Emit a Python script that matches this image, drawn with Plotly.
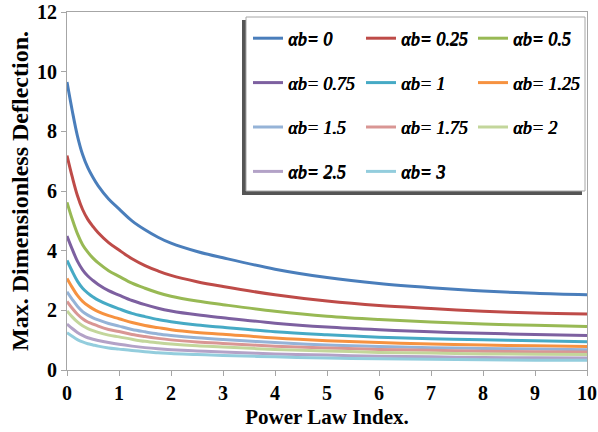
import plotly.graph_objects as go

x_vals = [0, 0.1, 0.2, 0.3, 0.4, 0.5, 0.6, 0.8, 1, 1.25, 1.5, 1.75, 2, 2.5, 3, 4, 5, 6, 7, 8, 9, 10]

ab_0 = [9.65, 8.70, 7.85, 7.22, 6.78, 6.45, 6.17, 5.73, 5.40, 5.00, 4.70, 4.45, 4.25, 3.97, 3.76, 3.38, 3.10, 2.90, 2.76, 2.65, 2.57, 2.52]
ab_025 = [7.19, 6.48, 5.85, 5.38, 5.05, 4.81, 4.60, 4.27, 4.02, 3.73, 3.50, 3.32, 3.17, 2.96, 2.80, 2.52, 2.31, 2.16, 2.06, 1.97, 1.91, 1.88]
ab_05 = [5.62, 5.06, 4.57, 4.20, 3.95, 3.75, 3.59, 3.33, 3.14, 2.91, 2.74, 2.59, 2.47, 2.31, 2.19, 1.97, 1.80, 1.69, 1.61, 1.54, 1.50, 1.46]
ab_075 = [4.49, 4.05, 3.65, 3.36, 3.15, 3.00, 2.87, 2.66, 2.51, 2.33, 2.19, 2.07, 1.98, 1.85, 1.75, 1.57, 1.44, 1.35, 1.28, 1.23, 1.19, 1.16]
ab_1 = [3.67, 3.31, 2.98, 2.74, 2.58, 2.45, 2.34, 2.18, 2.05, 1.90, 1.79, 1.69, 1.62, 1.51, 1.43, 1.28, 1.18, 1.10, 1.05, 1.01, 0.98, 0.95]
ab_125 = [3.07, 2.77, 2.50, 2.30, 2.16, 2.05, 1.96, 1.82, 1.72, 1.59, 1.49, 1.42, 1.35, 1.26, 1.20, 1.07, 0.98, 0.92, 0.87, 0.84, 0.81, 0.79]
ab_15 = [2.62, 2.37, 2.14, 1.96, 1.84, 1.75, 1.68, 1.56, 1.47, 1.36, 1.28, 1.21, 1.16, 1.08, 1.02, 0.92, 0.84, 0.79, 0.75, 0.72, 0.70, 0.68]
ab_175 = [2.30, 2.07, 1.87, 1.72, 1.61, 1.54, 1.47, 1.36, 1.29, 1.19, 1.12, 1.06, 1.01, 0.94, 0.89, 0.80, 0.74, 0.69, 0.66, 0.63, 0.61, 0.60]
ab_2 = [1.98, 1.78, 1.61, 1.48, 1.39, 1.32, 1.26, 1.17, 1.11, 1.03, 0.96, 0.91, 0.87, 0.81, 0.77, 0.69, 0.64, 0.59, 0.57, 0.54, 0.53, 0.52]
ab_25 = [1.54, 1.39, 1.26, 1.16, 1.08, 1.03, 0.99, 0.92, 0.86, 0.80, 0.75, 0.71, 0.68, 0.64, 0.60, 0.54, 0.50, 0.46, 0.44, 0.42, 0.41, 0.40]
ab_3 = [1.25, 1.13, 1.02, 0.94, 0.88, 0.84, 0.80, 0.74, 0.70, 0.65, 0.61, 0.58, 0.55, 0.52, 0.49, 0.44, 0.40, 0.38, 0.36, 0.34, 0.33, 0.33]

series_names = ["αb= 0", "αb= 0.25", "αb= 0.5", "αb= 0.75", "αb= 1", "αb= 1.25",
                "αb= 1.5", "αb= 1.75", "αb= 2", "αb= 2.5", "αb= 3"]
series_values = [ab_0, ab_025, ab_05, ab_075, ab_1, ab_125, ab_15, ab_175, ab_2, ab_25, ab_3]
colors = ["#4A7EBB", "#BE4B48", "#98B954", "#7D60A0", "#46AAC5", "#F69240",
          "#95B3D7", "#D99694", "#C3D69B", "#B3A2C7", "#93CDDD"]
legend_cols = ["legend", "legend2", "legend3"]

fig = go.Figure()
for i, (name, vals, col) in enumerate(zip(series_names, series_values, colors)):
    fig.add_trace(go.Scatter(
        x=x_vals, y=vals, mode="lines", name=name,
        line=dict(color=col, width=3, shape="spline", smoothing=1),
        legend=legend_cols[i % 3], legendgroup=f"g{i}",
    ))

serif = "Liberation Serif"
leg_font = dict(family=serif, size=18, color="black", style="italic",
                shadow="0.7px 0px 0px black, 0.35px 0.3px 0px black")
leg_common = dict(
    bgcolor="rgba(0,0,0,0)", borderwidth=0,
    tracegroupgap=18, traceorder="grouped",
    xanchor="left", yanchor="top", itemwidth=30, font=leg_font,
)

T, B, L, R = 12, 62, 67, 11
PW, PH = 598 - L - R, 432 - T - B

def px_x(p):
    return (p - L) / PW

def px_y(p):
    return (432 - B - p) / PH

fig.update_layout(
    width=598, height=432,
    margin=dict(l=L, r=R, t=T, b=B, autoexpand=False),
    paper_bgcolor="white", plot_bgcolor="white",
    font=dict(family=serif, color="black"),
    legend=dict(x=px_x(248), y=px_y(20), **leg_common),
    legend2=dict(x=px_x(361), y=px_y(20), **leg_common),
    legend3=dict(x=px_x(473), y=px_y(20), **leg_common),
    xaxis=dict(
        range=[0, 10], dtick=1, tick0=0, automargin=False,
        showgrid=False, zeroline=False,
        showline=True, linecolor="#a6a6a6", linewidth=1, mirror=True,
        ticks="outside", ticklen=5, tickcolor="#a6a6a6", ticklabeloverflow="allow",
        tickfont=dict(family=serif, size=20, color="black", weight="bold"),
        title=dict(text="<b>Power Law Index.</b>", font=dict(family=serif, size=21, color="black"), standoff=6),
    ),
    yaxis=dict(
        range=[0, 12], dtick=2, tick0=0, automargin=False,
        showgrid=False, zeroline=False,
        showline=True, linecolor="#a6a6a6", linewidth=1, mirror=True,
        ticks="outside", ticklen=5, tickcolor="#a6a6a6",
        tickfont=dict(family=serif, size=20, color="black", weight="bold"),
        title=dict(text="<b>Max. Dimensionless Deflection.</b>", font=dict(family=serif, size=24, color="black"), standoff=1),
    ),
    shapes=[
        dict(type="rect", xref="paper", yref="paper",
             x0=px_x(242), x1=px_x(582), y0=px_y(195), y1=px_y(20),
             fillcolor="#555555", line=dict(width=0), layer="above"),
        dict(type="rect", xref="paper", yref="paper",
             x0=px_x(246), x1=px_x(585), y0=px_y(191), y1=px_y(17),
             fillcolor="white", line=dict(color="#a6a6a6", width=1), layer="above"),
    ],
)

fig.write_html("out.html")
